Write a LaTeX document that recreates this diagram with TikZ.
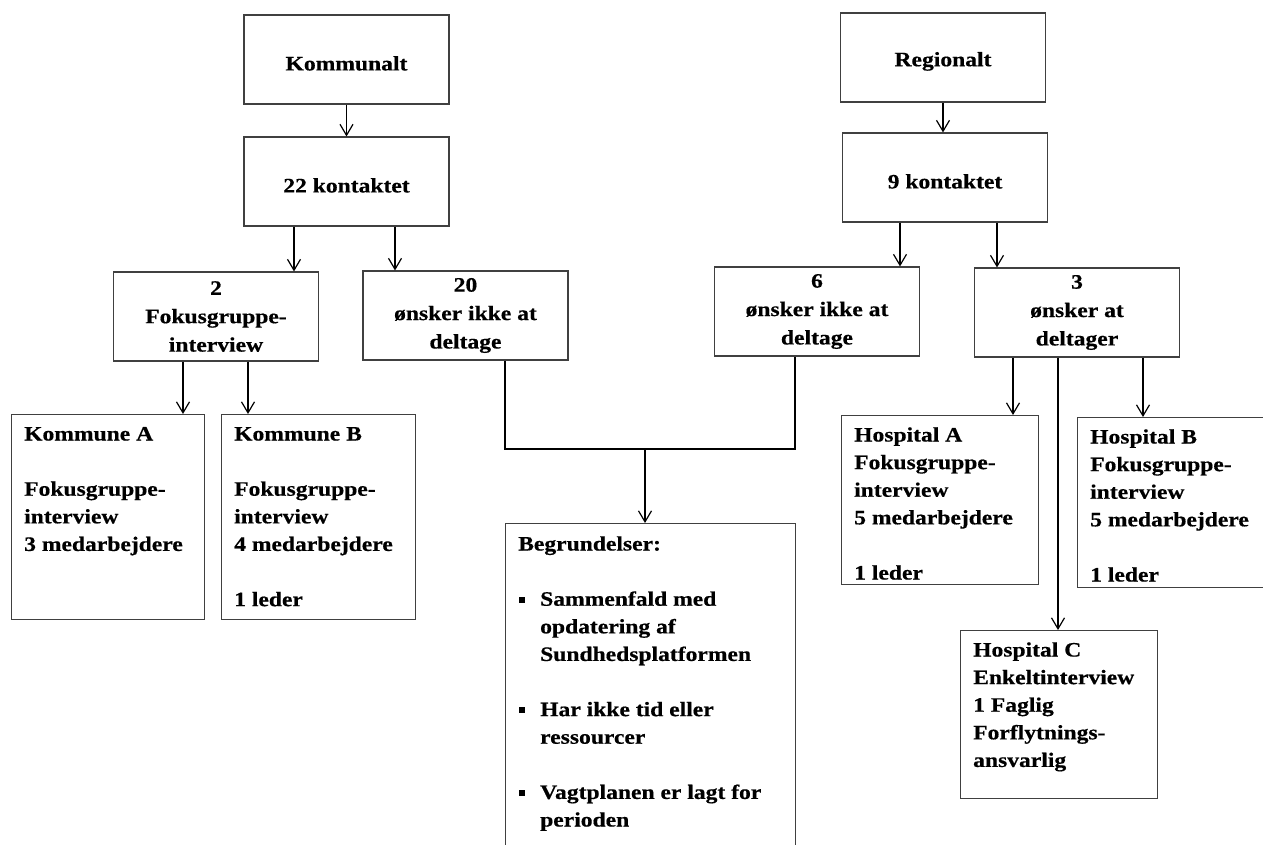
\documentclass[tikz,border=0pt]{standalone}
\usepackage{fontspec}
\setmainfont{Liberation Serif}[FakeStretch=1.15,BoldFeatures={FakeBold=0.5}]
\usetikzlibrary{arrows.meta,positioning}

\newcommand{\pkt}{\makebox[22pt][l]{\hspace{1pt}\rule[3pt]{6pt}{6pt}}}
\newcommand{\ind}{\hspace*{22pt}}

\begin{document}
\begin{tikzpicture}[x=1pt,y=-1pt,
  font=\fontsize{20.5}{27.6}\selectfont\bfseries,
  boks/.style={draw=black!75,line width=1.1pt,inner sep=0pt,align=center},
  midt/.style={boks,minimum width=205pt,minimum height=89pt,
    font=\fontsize{20.5}{28.4}\selectfont\bfseries,
    execute at begin node={\rule{0pt}{22pt}}},
  tekst/.style={inner sep=0pt,align=left},
  pil/.style={-{Straight Barb[length=11pt,width=13pt]},line width=1.2pt},
  streg/.style={line width=1.2pt}]
\fill[white] (0,0) rectangle (1263,844);
\useasboundingbox (0,0) rectangle (1263,844);
\clip (0,0) rectangle (1263,844);
% kommunalt side
\node[midt] (kom) at (346.5,59.5) {Kommunalt};
\node[midt] (k22) at (346.5,181.5) {22 kontaktet};
\node[midt] (fok) at (216,316.5) {2\\Fokusgruppe-\\interview};
\node[midt] (ikk20) at (465.5,315.5) {20\\ønsker ikke at\\deltage};
\node[boks,minimum width=193pt,minimum height=205pt,anchor=north west] (kA) at (11,414) {};
\node[tekst,below right=7pt and 13pt of kA.north west] (kAt) {\strut Kommune A\\[\baselineskip]Fokusgruppe-\\interview\\3 medarbejdere};
\node[boks,minimum width=194pt,minimum height=205pt,anchor=north west] (kB) at (221,414) {};
\node[tekst,below right=7pt and 13pt of kB.north west] (kBt) {\strut Kommune B\\[\baselineskip]Fokusgruppe-\\interview\\4 medarbejdere\\[\baselineskip]1 leder};
% regionalt side
\node[midt] (reg) at (943,57.5) {Regionalt};
\node[midt] (k9) at (945,177.5) {9 kontaktet};
\node[midt] (ikk6) at (817,311.5) {6\\ønsker ikke at\\deltage};
\node[midt] (ja3) at (1077,312.5) {3\\ønsker at\\deltager};
\node[boks,minimum width=197pt,minimum height=169pt,anchor=north west] (hA) at (841,415) {};
\node[tekst,below right=7pt and 13pt of hA.north west] (hAt) {\strut Hospital A\\Fokusgruppe-\\interview\\5 medarbejdere\\[\baselineskip]1 leder};
\node[boks,minimum width=220pt,minimum height=170pt,anchor=north west] (hB) at (1077,417) {};
\node[tekst,below right=7pt and 13pt of hB.north west] (hBt) {\strut Hospital B\\Fokusgruppe-\\interview\\5 medarbejdere\\[\baselineskip]1 leder};
\node[boks,minimum width=197pt,minimum height=168pt,anchor=north west] (hC) at (960,630) {};
\node[tekst,below right=7pt and 13pt of hC.north west] (hCt) {\strut Hospital C\\Enkeltinterview\\1 Faglig\\Forflytnings-\\ansvarlig};
% begrundelser
\node[boks,minimum width=290pt,minimum height=360pt,anchor=north west] (begr) at (505,523) {};
\node[tekst,below right=8pt and 13pt of begr.north west] (begrt) {\strut Begrundelser:\\[\baselineskip]
\pkt Sammenfald med\\ \ind opdatering af\\ \ind Sundhedsplatformen\\[\baselineskip]
\pkt Har ikke tid eller\\ \ind ressourcer\\[\baselineskip]
\pkt Vagtplanen er lagt for\\ \ind perioden};
\coordinate (mote) at (645,449);
% pile
\draw[pil] (kom.south) -- (k22.north);
\draw[pil] ([xshift=-52.5pt]k22.south) -- ([xshift=-52.5pt]k22.south |- fok.north);
\draw[pil] ([xshift=48.5pt]k22.south) -- ([xshift=48.5pt]k22.south |- ikk20.north);
\draw[pil] ([xshift=-33pt]fok.south) -- ([xshift=-33pt]fok.south |- kA.north);
\draw[pil] ([xshift=32pt]fok.south) -- ([xshift=32pt]fok.south |- kB.north);
\draw[streg] ([xshift=39.5pt]ikk20.south) |- ([xshift=-22pt]ikk6.south |- mote) -- ([xshift=-22pt]ikk6.south);
\draw[pil] (mote) -- (mote |- begr.north);
\draw[pil] (reg.south) -- (reg.south |- k9.north);
\draw[pil] ([xshift=-45pt]k9.south) -- ([xshift=-45pt]k9.south |- ikk6.north);
\draw[pil] ([xshift=52pt]k9.south) -- ([xshift=52pt]k9.south |- ja3.north);
\draw[pil] ([xshift=-64pt]ja3.south) -- ([xshift=-64pt]ja3.south |- hA.north);
\draw[pil] ([xshift=-19pt]ja3.south) -- ([xshift=-19pt]ja3.south |- hC.north);
\draw[pil] ([xshift=66pt]ja3.south) -- ([xshift=66pt]ja3.south |- hB.north);
\end{tikzpicture}
\end{document}
